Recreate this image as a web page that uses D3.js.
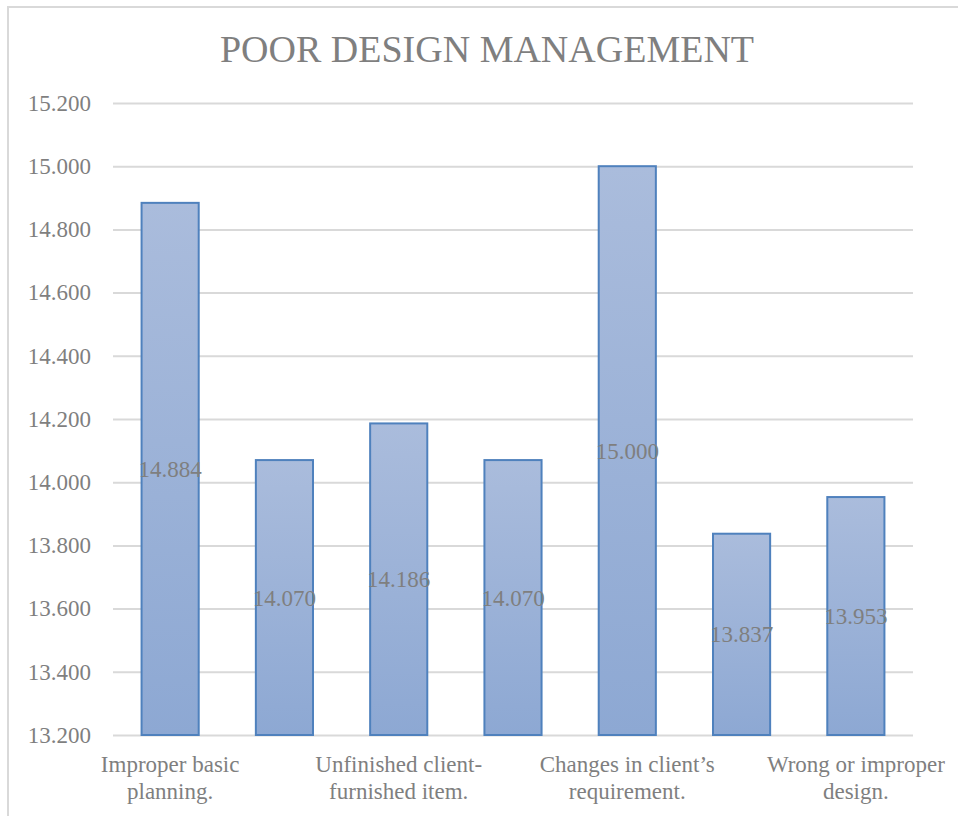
<!DOCTYPE html>
<html>
<head>
<meta charset="utf-8">
<script src="https://cdn.jsdelivr.net/npm/d3@7"></script>
<style>
  html, body { margin: 0; padding: 0; background: #ffffff; }
  svg { display: block; }
</style>
</head>
<body>
<svg id="chart" width="958" height="816"></svg>
<script>
// Chart title
const chartTitle = "POOR DESIGN MANAGEMENT";

// Category labels (every other category carries a visible label)
const categories = [
  "Improper basic\nplanning.",
  "",
  "Unfinished client-\nfurnished item.",
  "",
  "Changes in client\u2019s\nrequirement.",
  "",
  "Wrong or improper\ndesign."
];

// Series values
const values = [14.884, 14.070, 14.186, 14.070, 15.000, 13.837, 13.953];

// Y axis ticks
const yTicks = [13.2, 13.4, 13.6, 13.8, 14.0, 14.2, 14.4, 14.6, 14.8, 15.0, 15.2];

const serif = "'Liberation Serif', 'Times New Roman', serif";
const textGray = "#7f7f7f";

const svg = d3.select("#chart").style("font-family", serif);

const plot = { left: 113, right: 913, top: 103, bottom: 735 };

const x = d3.scaleBand()
  .domain(d3.range(values.length))
  .range([plot.left, plot.right])
  .paddingInner(0.5)
  .paddingOuter(0.25);

const y = d3.scaleLinear()
  .domain([13.2, 15.2])
  .range([plot.bottom, plot.top]);

const fmt = d3.format(".3f");

// Outer chart frame
svg.append("rect")
  .attr("x", 8).attr("y", 7)
  .attr("width", 980).attr("height", 840)
  .attr("fill", "none")
  .attr("stroke", "#d9d9d9")
  .attr("stroke-width", 2);

// Bar gradient
const defs = svg.append("defs");
const grad = defs.append("linearGradient")
  .attr("id", "barFill")
  .attr("x1", 0).attr("y1", 0).attr("x2", 0).attr("y2", 1);
grad.append("stop").attr("offset", "0%").attr("stop-color", "#aabcdc");
grad.append("stop").attr("offset", "100%").attr("stop-color", "#8da8d3");

// Title
svg.append("text")
  .attr("x", 487)
  .attr("y", 62)
  .attr("text-anchor", "middle")
  .style("font-family", serif)
  .attr("font-size", 38)
  .attr("fill", textGray)
  .text(chartTitle);

// Gridlines and y tick labels
const yAxis = d3.axisLeft(y)
  .tickValues(yTicks)
  .tickSize(-(plot.right - plot.left))
  .tickPadding(22)
  .tickFormat(fmt);

const gy = svg.append("g")
  .attr("transform", `translate(${plot.left},0)`)
  .call(yAxis);
gy.attr("font-family", null).style("font-family", serif);
gy.select(".domain").remove();
gy.selectAll(".tick line")
  .attr("stroke", "#d9d9d9")
  .attr("stroke-width", 2);
gy.selectAll(".tick text")
  .style("font-family", serif)
  .attr("font-size", 23)
  .attr("fill", textGray);

// Bars
svg.append("g")
  .selectAll("rect")
  .data(values)
  .join("rect")
  .attr("x", (d, i) => x(i))
  .attr("y", d => y(d))
  .attr("width", x.bandwidth())
  .attr("height", d => y(13.2) - y(d))
  .attr("fill", "url(#barFill)")
  .attr("stroke", "#4f81bd")
  .attr("stroke-width", 2);

// Value labels centred in each bar
svg.append("g")
  .selectAll("text")
  .data(values)
  .join("text")
  .attr("x", (d, i) => x(i) + x.bandwidth() / 2)
  .attr("y", d => (y(d) + y(13.2)) / 2)
  .attr("dy", "0.35em")
  .attr("text-anchor", "middle")
  .style("font-family", serif)
  .attr("font-size", 23)
  .attr("fill", textGray)
  .text(d => fmt(d));

// Category axis labels
const xAxis = d3.axisBottom(x)
  .tickValues(d3.range(values.length).filter(i => categories[i] !== ""))
  .tickSize(0)
  .tickFormat("");

const gx = svg.append("g")
  .attr("transform", `translate(0,${plot.bottom})`)
  .call(xAxis);
gx.attr("font-family", null).style("font-family", serif);
gx.select(".domain").remove();

gx.selectAll(".tick").each(function(i) {
  const lines = categories[i].split("\n");
  const t = d3.select(this).append("text")
    .attr("text-anchor", "middle")
    .style("font-family", serif)
    .attr("font-size", 23)
    .attr("fill", textGray);
  lines.forEach((ln, k) => {
    t.append("tspan")
      .attr("x", 0)
      .attr("y", 37 + k * 27)
      .text(ln);
  });
});
</script>
</body>
</html>
